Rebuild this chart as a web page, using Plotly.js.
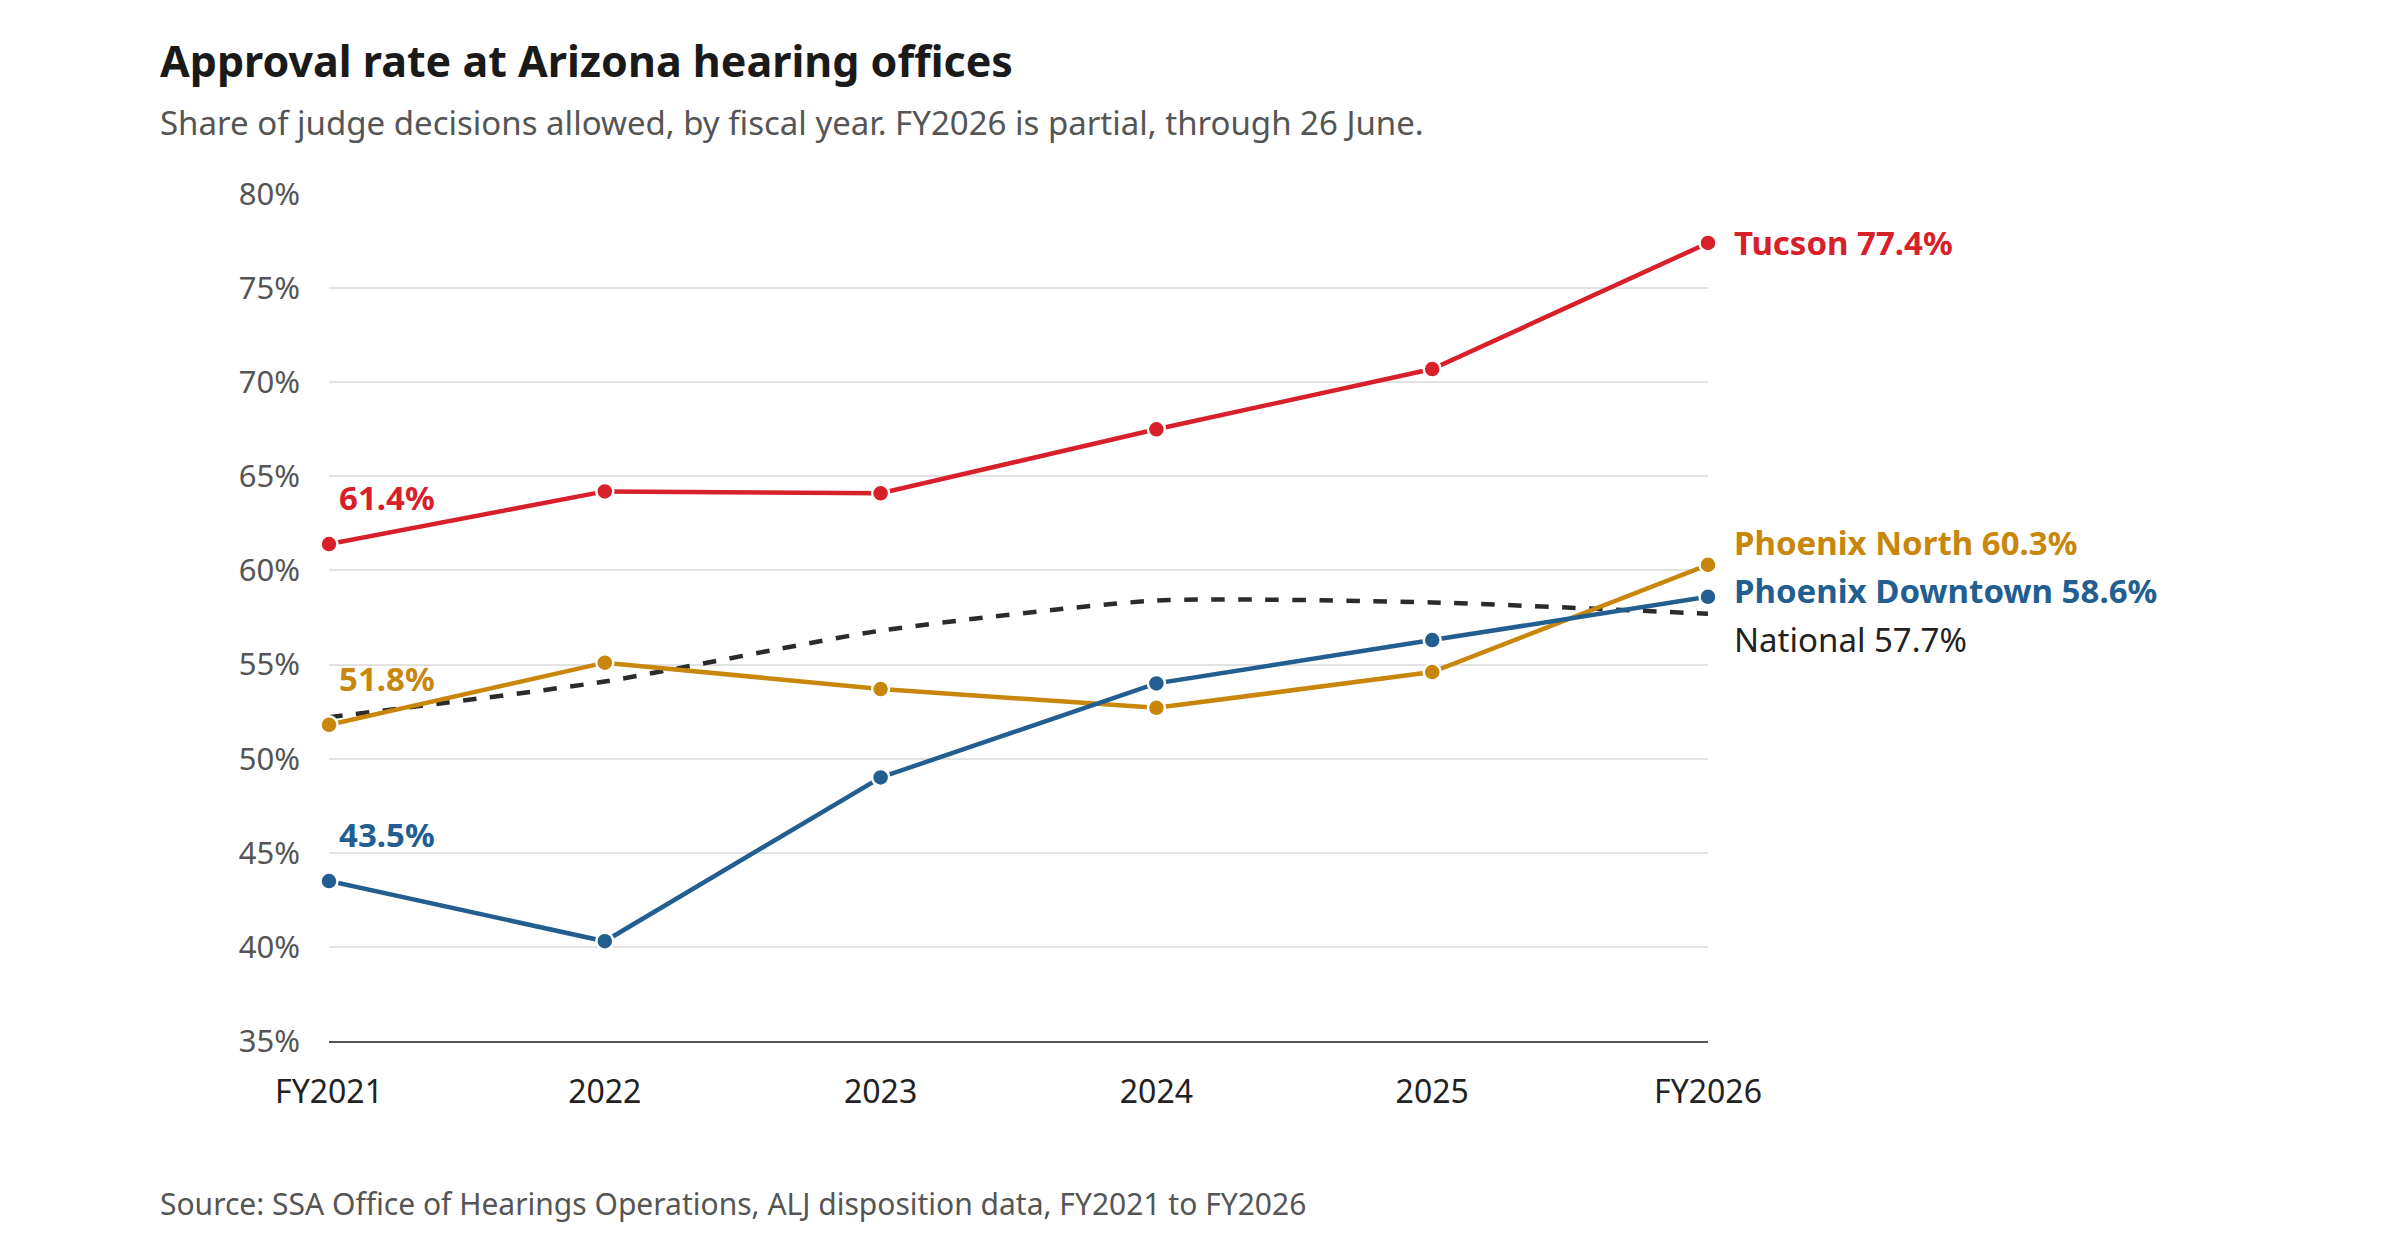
<!DOCTYPE html>
<html><head><meta charset="utf-8">
<script src="https://cdn.plot.ly/plotly-3.0.1.min.js"></script>
<style>body{margin:0;background:#fff}</style></head>
<body><div id="chart" style="width:2400px;height:1260px"></div>
<script>
const CHART = document.getElementById('chart');
const years = ['FY2021', '2022', '2023', '2024', '2025', 'FY2026'];
const tucson = [61.4, 64.2, 64.1, 67.5, 70.7, 77.4];
const phxNorth = [51.8, 55.1, 53.7, 52.7, 54.6, 60.3];
const phxDowntown = [43.5, 40.3, 49.0, 54.0, 56.3, 58.6];
const national = [52.2, 54.1, 56.8, 58.4, 58.3, 57.7];
const yTicks = [35, 40, 45, 50, 55, 60, 65, 70, 75, 80];

const RED = '#d7202a', GOLD = '#c8860a', BLUE = '#235e91', DARK = '#2b2b2b';
const FONT = 'Noto Sans, Open Sans, sans-serif';
const xs = years.map((_, i) => i);

function series(y, color) {
    return {x: xs, y: y, type: 'scatter', mode: 'lines+markers', cliponaxis: false,
        line: {color: color, width: 4.5},
        marker: {color: color, size: 17, line: {color: '#fff', width: 2.5}}};
}

const traces = [
    {x: xs, y: national, type: 'scatter', mode: 'lines', cliponaxis: false,
        line: {color: DARK, width: 4.5, dash: 'dash', shape: 'spline', smoothing: 0.6}},
    series(phxNorth, GOLD),
    series(phxDowntown, BLUE),
    series(tucson, RED)
];

function endLabel(y, text, color, bold, yshift) {
    return {x: 5, y: y, text: text, xanchor: 'left', yanchor: 'middle', xshift: 24, yshift: yshift || 0,
        showarrow: false, font: {family: FONT, size: 33, color: color, weight: bold ? 700 : 400}};
}
function startLabel(y, text, color) {
    return {x: 0, y: y, text: text, xanchor: 'left', yanchor: 'bottom', xshift: 8, yshift: 22,
        showarrow: false, font: {family: FONT, size: 33, color: color, weight: 700}};
}

const layout = {
    showlegend: false,
    paper_bgcolor: '#fff', plot_bgcolor: '#fff',
    margin: {l: 329, r: 692, t: 194, b: 219},
    font: {family: FONT, color: '#444'},
    xaxis: {range: [0, 5], tickvals: xs, ticktext: years, showgrid: false, zeroline: false,
        showline: true, linecolor: '#555', linewidth: 2, ticks: '', ticklen: 0,
        ticklabelstandoff: 22, tickfont: {size: 32, color: '#222'}},
    yaxis: {range: [35, 80], tickvals: yTicks, ticktext: yTicks.map(v => v + '%'),
        showgrid: true, gridcolor: '#e2e2e2', gridwidth: 2, zeroline: false,
        ticks: '', tickfont: {size: 31, color: '#555'}, ticklabelstandoff: 28},
    annotations: [
        {xref: 'paper', yref: 'paper', x: -0.124, y: 1, yshift: 102, xanchor: 'left', yanchor: 'bottom',
            text: '<b>Approval rate at Arizona hearing offices</b>', showarrow: false,
            font: {family: FONT, size: 43, color: '#1a1a1a'}},
        {xref: 'paper', yref: 'paper', x: -0.124, y: 1, yshift: 96, xanchor: 'left', yanchor: 'top',
            text: 'Share of judge decisions allowed, by fiscal year. FY2026 is partial, through 26 June.',
            showarrow: false, font: {family: FONT, size: 33, color: '#555'}},
        {xref: 'paper', yref: 'paper', x: -0.124, y: 0, yshift: -140, xanchor: 'left', yanchor: 'top',
            text: 'Source: SSA Office of Hearings Operations, ALJ disposition data, FY2021 to FY2026',
            showarrow: false, font: {family: FONT, size: 30, color: '#555'}},
        endLabel(tucson[5], 'Tucson 77.4%', RED, true),
        endLabel(phxNorth[5], 'Phoenix North 60.3%', GOLD, true, 22),
        endLabel(phxDowntown[5], 'Phoenix Downtown 58.6%', BLUE, true, 6),
        endLabel(national[5], 'National 57.7%', '#222', false, -26),
        startLabel(tucson[0], '61.4%', RED),
        startLabel(phxNorth[0], '51.8%', GOLD),
        startLabel(phxDowntown[0], '43.5%', BLUE)
    ]
};

Plotly.newPlot(CHART, traces, layout, {displayModeBar: false});
</script></body></html>
